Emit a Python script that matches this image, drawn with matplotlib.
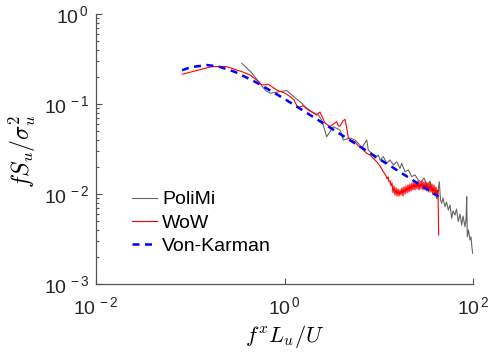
import numpy as np
import matplotlib
matplotlib.use('Agg')
import matplotlib.pyplot as plt
from matplotlib.ticker import FixedLocator, FixedFormatter, LogLocator, NullFormatter, NullLocator

plt.rcParams['font.family'] = 'Liberation Sans'
plt.rcParams['mathtext.fontset'] = 'custom'
plt.rcParams['mathtext.rm'] = 'Liberation Sans'
plt.rcParams['mathtext.it'] = 'Liberation Sans:italic'

## PoliMi wind tunnel spectrum
f_polimi = [0.352, 0.441, 0.573, 0.637, 0.702, 0.853, 1.055, 1.261, 1.522, 1.650,
            1.944, 2.284, 2.481, 2.804, 3.294, 3.880, 4.206, 4.955, 5.598, 6.067,
            6.594, 7.450, 7.747, 8.419, 9.125, 9.890, 10.31, 11.18, 12.15, 13.16,
            14.27, 15.51, 16.81, 17.52, 18.99, 20.58, 22.37, 24.24, 26.28, 28.07,
            30.21, 32.50, 34.99, 37.63, 39.52, 41.50, 43.90, 45.21, 46.56, 48.06,
            50.47, 52.35, 54.70, 57.02, 59.43, 61.35, 64.42, 66.82, 69.82, 72.80,
            75.88, 78.33, 82.25, 84.28, 85.76, 87.01, 89.61, 92.94, 95.23, 97.59,
            99.26]
s_polimi = [0.283, 0.227, 0.160, 0.140, 0.132, 0.136, 0.141, 0.120, 0.102, 0.0933,
            0.0821, 0.0754, 0.0664, 0.0433, 0.0559, 0.0514, 0.0398, 0.0419, 0.0398, 0.0366,
            0.0324, 0.0398, 0.0308, 0.0283, 0.0249, 0.0271, 0.0239, 0.0260, 0.0219, 0.0239,
            0.0210, 0.0228, 0.0193, 0.0219, 0.0177, 0.0185, 0.0156, 0.0163, 0.0143, 0.0136,
            0.0151, 0.0123, 0.0139, 0.00975, 0.0105, 0.00880, 0.0137, 0.00858, 0.00788, 0.00903,
            0.00723, 0.00815, 0.00664, 0.00755, 0.00537, 0.00648, 0.00584, 0.00681, 0.00492, 0.00599,
            0.00452, 0.00570, 0.00433, 0.00514, 0.00933, 0.00335, 0.00398, 0.00308, 0.00333, 0.00251,
            0.00219]

## WoW spectrum
f_wow = [0.0823, 0.1179, 0.1689, 0.2436, 0.352, 0.4305, 0.5233, 0.573, 0.6212, 0.6731,
         0.8263, 1.012, 1.144, 1.261, 1.357, 1.460, 1.572, 1.720, 1.944, 2.196,
         2.380, 2.690, 3.040, 3.294, 3.579, 3.740, 3.880, 4.175, 4.385, 4.571,
         4.753, 5.077, 5.598, 6.067, 6.594, 7.450, 8.077, 8.690, 9.511, 10.31,
         11.18, 11.94, 12.24, 12.54, 12.85, 13.17, 13.49, 13.83, 14.17, 14.52,
         14.88, 15.25, 15.62, 16.01, 16.40, 16.81, 17.22, 17.65, 18.09, 18.53,
         18.99, 19.46, 19.94, 20.43, 20.94, 21.45, 21.98, 22.53, 23.08, 23.65,
         24.24, 24.84, 25.45, 26.08, 26.72, 27.38, 28.06, 28.75, 29.46, 30.19,
         30.94, 31.70, 32.49, 33.29, 34.11, 34.95, 35.82, 36.70, 37.61, 38.54,
         39.49, 40.47, 41.47, 42.50, 43.22]
s_wow = [0.214, 0.236, 0.260, 0.260, 0.229, 0.210, 0.180, 0.163, 0.163, 0.166,
         0.143, 0.132, 0.121, 0.111, 0.0950, 0.0926, 0.0962, 0.0880, 0.0815, 0.0754,
         0.0815, 0.0615, 0.0559, 0.0599, 0.0636, 0.0570, 0.0570, 0.0648, 0.0676, 0.0541,
         0.0419, 0.0398, 0.0381, 0.0341, 0.0322, 0.0283, 0.0271, 0.0251, 0.0228, 0.0205,
         0.0177, 0.0159, 0.0147, 0.0155, 0.0136, 0.0140, 0.0123, 0.0133, 0.0103, 0.0123,
         0.00975, 0.0117, 0.00950, 0.0114, 0.00950, 0.0111, 0.00975, 0.0117, 0.00950, 0.0120,
         0.0100, 0.0123, 0.0103, 0.0126, 0.0105, 0.0129, 0.0108, 0.0133, 0.0111, 0.0136,
         0.0111, 0.0136, 0.0114, 0.0140, 0.0111, 0.0136, 0.0114, 0.0140, 0.0111, 0.0136,
         0.0111, 0.0136, 0.0108, 0.0133, 0.0105, 0.0133, 0.0105, 0.0129, 0.0100, 0.0126,
         0.00975, 0.0120, 0.00950, 0.0111, 0.00350]

## Von Karman model
f_vk = [0.082, 0.1, 0.15, 0.2, 0.3, 0.5, 0.7, 1, 1.5, 2, 3, 5, 7, 10, 15, 20, 30, 43]
s_vk = [0.237, 0.256, 0.271, 0.261, 0.227, 0.174, 0.142, 0.114, 0.0872, 0.0722,
        0.0552, 0.0393, 0.0314, 0.0247, 0.0189, 0.0156, 0.0119, 0.0094]

x_ticks = [1e-2, 1e0, 1e2]
x_tick_labels = [r'$\mathregular{10^{\,-2}}$', r'$\mathregular{10^{\,0}}$', r'$\mathregular{10^{\,2}}$']
y_ticks = [1e-3, 1e-2, 1e-1, 1e0]
y_tick_labels = [r'$\mathregular{10^{\,-3}}$', r'$\mathregular{10^{\,-2}}$',
                 r'$\mathregular{10^{\,-1}}$', r'$\mathregular{10^{\,0}}$']

fig = plt.figure(figsize=(4.93, 3.56), dpi=100)
ax = fig.add_axes([96 / 493, 1 - 284 / 356, 377 / 493, 270 / 356])

ax.loglog(f_polimi, s_polimi, color='0.4', lw=0.8, label='PoliMi')
ax.loglog(f_wow, s_wow, color='red', lw=0.8, label='WoW')
ax.loglog(f_vk, s_vk, color='blue', lw=1.8, dashes=(2.8, 2.2), label='Von-Karman')

ax.set_xlim(1e-2, 1e2)
ax.set_ylim(1e-3, 1e0)

ax.xaxis.set_major_locator(FixedLocator(x_ticks))
ax.xaxis.set_major_formatter(FixedFormatter(x_tick_labels))
ax.xaxis.set_minor_locator(NullLocator())
ax.yaxis.set_major_locator(FixedLocator(y_ticks))
ax.yaxis.set_major_formatter(FixedFormatter(y_tick_labels))
ax.yaxis.set_minor_locator(LogLocator(base=10, subs=np.arange(2, 10)))
ax.yaxis.set_minor_formatter(NullFormatter())

for side in ['top', 'right']:
    ax.spines[side].set_visible(False)
for side in ['left', 'bottom']:
    ax.spines[side].set_color('#555555')
    ax.spines[side].set_linewidth(0.9)

ax.tick_params(which='major', direction='in', length=4, width=0.8, color='#555555',
               labelsize=14, labelcolor='#262626')
ax.tick_params(axis='x', which='major', pad=9)
ax.tick_params(axis='y', which='major', pad=5)
ax.tick_params(which='minor', direction='in', length=2.5, width=0.8, color='#555555')

ax.set_xlabel(r'$f^x L_u/U$', fontsize=16, math_fontfamily='cm')
ax.set_ylabel(r'$fS_u/\sigma_u^2$', fontsize=17, math_fontfamily='cm')
ax.xaxis.set_label_coords(0.5, -0.145)
ax.yaxis.set_label_coords(-0.155, 0.49)

ax.legend(loc='upper left', bbox_to_anchor=(0.0955, 0.345), frameon=False,
          fontsize=14, handlelength=1.29, handletextpad=0.26, labelspacing=0.28,
          borderpad=0, borderaxespad=0)

fig.savefig('out.png', dpi=100)
